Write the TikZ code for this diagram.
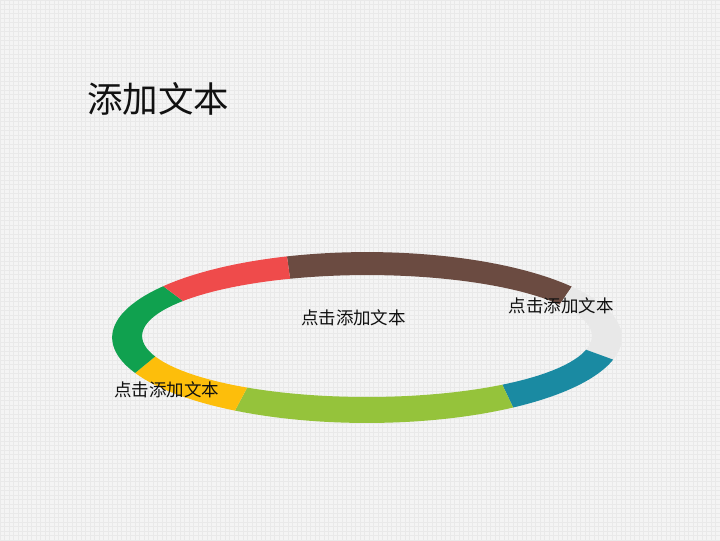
\documentclass[tikz,border=0pt]{standalone}
\usepackage{fontspec}
\newfontfamily\cjk{Noto Sans CJK SC}
\definecolor{bgc}{HTML}{F4F4F4}
\definecolor{gridc}{HTML}{E9E9E9}
\definecolor{cred}{HTML}{EF4B4B}
\definecolor{cbrown}{HTML}{6B4B41}
\definecolor{cwhite}{HTML}{E8E8E8}
\definecolor{cteal}{HTML}{1A8AA2}
\definecolor{clgreen}{HTML}{95C33B}
\definecolor{cyellow}{HTML}{FDBE0B}
\definecolor{cgreen}{HTML}{10A14F}
\definecolor{ctext}{HTML}{111111}
\newcommand{\ringseg}[5]{%
  \fill[#1] plot[domain=#2:#3,samples=60] ({367+255*cos(\x)},{337.5+85.5*sin(\x)})
    -- plot[domain=#5:#4,samples=60] ({367+225*cos(\x)},{336+61*sin(\x)}) -- cycle;}
\tikzset{
  lbl/.style={font=\cjk\fontsize{17.5}{20}\selectfont, text=ctext, inner sep=0pt},
  ttl/.style={font=\cjk\fontsize{35.5}{40}\selectfont, text=ctext, inner sep=0pt},
  gridline/.style={gridc, line width=0.5pt}
}
\begin{document}
\begin{tikzpicture}[x=1pt,y=-1pt]
\fill[bgc] (0,0) rectangle (720,540);
\foreach \i in {0,4.5,...,720} {\draw[gridline] (\i,0) -- (\i,540);}
\foreach \j in {0,4.5,...,540} {\draw[gridline] (0,\j) -- (720,\j);}
\useasboundingbox (0,0) rectangle (720,540);
% ring segments: colour, outer start, outer end, inner start, inner end
\ringseg{cbrown}{-108.3}{-36.5}{-110}{-31}
\ringseg{cwhite}{-36.5}{15}{-31}{13}
\ringseg{cteal}{15}{55}{13}{53}
\ringseg{clgreen}{55}{121.2}{53}{122.2}
\ringseg{cyellow}{121.2}{155.5}{122.2}{160.4}
\ringseg{cgreen}{155.5}{216.9}{160.4}{215.1}
\ringseg{cred}{216.9}{251.7}{215.1}{250}
% texts
\node[ttl] (title) at (158,99) {添加文本};
\node[lbl] (lcenter) at (353.5,318) {点击添加文本};
\node[lbl] (lright) at (561.5,306) {点击添加文本};
\node[lbl] (lleft) at (166.5,390) {点击添加文本};
\end{tikzpicture}
\end{document}
